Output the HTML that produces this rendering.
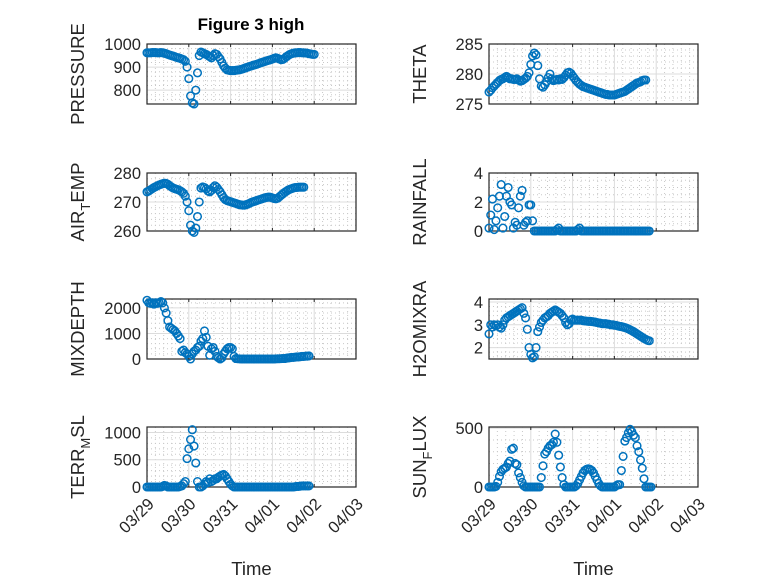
<!DOCTYPE html>
<html><head><meta charset="utf-8"><style>
body{margin:0;background:#fff;}
svg{display:block;font-family:"Liberation Sans","DejaVu Sans",sans-serif;}
</style></head><body>
<svg id="fig" width="778" height="583" xmlns="http://www.w3.org/2000/svg"></svg>
<script>
const dateTicks = ["03/29","03/30","03/31","04/01","04/02","04/03"];
const pressure = [962,962,962,963,963,963,962,962,963,962,960,958,955,952,950,948,945,942,940,938,935,932,925,900,850,775,745,740,800,875,950,965,962,958,955,950,945,940,950,958,955,945,935,920,905,895,888,886,885,885,885,886,887,888,890,892,895,898,900,903,905,908,910,912,915,918,920,923,925,928,930,932,935,938,940,938,935,932,933,938,945,950,955,958,960,962,962,963,963,962,962,961,960,958,957,955,955];
const theta = [277,277.3,277.7,278,278.3,278.6,278.9,279.1,279.2,279.4,279.6,279.4,279.2,279.2,279.1,279.1,279.2,279.0,278.8,278.9,279.1,279.3,279.6,280.2,281.6,283.0,283.5,283.2,281.4,279.2,278.0,277.8,278.2,278.7,279.4,280.0,279.2,278.9,279.0,279.1,279.0,279.2,279.1,279.4,279.8,280.2,280.3,280.1,279.7,279.3,278.9,278.6,278.3,278.1,277.9,277.8,277.7,277.6,277.5,277.4,277.3,277.2,277.1,277.0,276.9,276.8,276.7,276.6,276.6,276.5,276.5,276.5,276.5,276.6,276.7,276.8,276.9,277.0,277.1,277.3,277.5,277.7,277.9,278.1,278.3,278.5,278.6,278.7,278.9,279.0,279.0];
const airTemp = [273.5,273.8,274.2,274.6,275,275.3,275.6,275.9,276.1,276.3,276.5,276.4,276.1,275.6,275.2,274.8,274.6,274.4,274.2,273.9,273.5,273,272,270,267,262,260,259.5,261,265,270,274.8,275.2,275,274.5,273.8,273.5,274,275,275.6,275.1,274.3,273.5,272.5,271.5,270.8,270.5,270.3,270.1,269.9,269.7,269.5,269.3,269.1,269,268.9,268.9,269.1,269.3,269.6,269.9,270.1,270.3,270.5,270.7,270.9,271.1,271.3,271.5,271.6,271.7,271.6,271.4,271.2,271.1,271.3,271.8,272.3,272.8,273.3,273.7,274.1,274.4,274.6,274.8,275,275,275.1,275.1,275.1,275.1];
const rainfall = [0.2,1.1,2.2,0.1,0.7,1.6,2.4,3.2,0.2,1.0,2.4,3.0,2.0,1.8,0.2,0.6,0.4,1.6,2.4,2.8,0.4,0.6,0.7,1.8,1.8,0.7,0,0,0,0,0,0,0,0,0,0,0,0,0,0.1,0.2,0,0,0,0,0,0,0,0,0,0,0.1,0.2,0,0,0,0,0,0,0,0,0,0,0,0,0,0,0,0,0,0,0,0,0,0,0,0,0,0,0,0,0,0,0,0,0,0,0,0,0,0,0,0];
const mixDepth = [2300,2200,2180,2200,2150,2200,2180,2200,2250,2200,2000,1800,1500,1250,1200,1150,1100,1000,900,800,300,350,250,200,100,0,200,300,350,450,500,700,800,1100,850,500,150,400,450,300,100,50,0,50,200,300,400,450,450,400,100,20,10,5,0,0,0,0,0,0,0,0,0,0,0,0,0,0,0,0,0,0,0,0,5,10,10,15,20,20,30,40,50,60,60,70,80,80,90,100,100,110,110,120];
const h2oMix = [2.6,3.0,2.9,3.0,2.95,3.0,2.9,2.85,3.0,3.2,3.3,3.35,3.4,3.45,3.5,3.55,3.6,3.65,3.7,3.75,3.5,3.3,2.8,2.0,1.7,1.55,1.6,2.0,2.7,2.9,3.1,3.2,3.3,3.35,3.4,3.5,3.55,3.6,3.65,3.6,3.55,3.5,3.4,3.3,3.1,3.0,3.05,3.2,3.25,3.2,3.2,3.2,3.2,3.2,3.18,3.17,3.16,3.15,3.15,3.14,3.13,3.12,3.1,3.08,3.07,3.05,3.05,3.05,3.03,3.02,3.0,3.0,2.98,2.97,2.95,2.93,2.92,2.9,2.88,2.85,2.82,2.78,2.74,2.7,2.65,2.6,2.55,2.5,2.45,2.4,2.36,2.32,2.3];
const terrMsl = [0,0,0,0,0,0,0,0,0,10,30,20,0,0,0,0,0,0,0,10,20,60,100,520,700,870,1050,750,440,100,0,0,20,50,100,80,150,100,120,150,150,180,200,220,230,200,150,100,50,20,0,0,0,0,0,0,0,0,0,0,0,0,0,0,0,0,0,0,0,0,0,0,0,0,0,0,0,0,0,0,0,0,0,0,0,5,10,10,15,20,20,20,20,20];
const sunFlux = [0,0,0,0,5,40,90,130,150,160,170,200,220,320,330,200,190,120,80,40,10,0,0,0,0,0,0,0,0,0,80,180,280,300,330,350,360,380,450,380,270,170,80,20,0,0,0,0,0,0,10,30,60,90,120,140,150,155,150,140,120,90,60,30,10,0,0,0,0,0,0,0,0,10,20,20,140,260,390,420,460,490,470,440,420,350,300,230,160,70,0,0,0,0];

const NS = "http://www.w3.org/2000/svg";
const svg = document.getElementById("fig");
function mk(tag, attrs, parent){const e=document.createElementNS(NS,tag);for(const k in attrs)e.setAttribute(k,attrs[k]);(parent||svg).appendChild(e);return e;}

const cols = [{x0:147,x1:356},{x0:489,x1:698}];
const rows = [{y0:44,y1:104},{y0:173,y1:231},{y0:299,y1:359},{y0:427,y1:487}];
const panels = [
 {name:"pressure",data:pressure,c:0,r:0,ymin:740,ymax:1000,ticks:[800,900,1000],minor:20,label:["PRESSURE"]},
 {name:"theta",data:theta,c:1,r:0,ymin:275,ymax:285,ticks:[275,280,285],minor:1,label:["THETA"]},
 {name:"air-temp",data:airTemp,c:0,r:1,ymin:260,ymax:280,ticks:[260,270,280],minor:2,label:["AIR","T","EMP"]},
 {name:"rainfall",data:rainfall,c:1,r:1,ymin:0,ymax:4,ticks:[0,2,4],minor:0.5,label:["RAINFALL"]},
 {name:"mixdepth",data:mixDepth,c:0,r:2,ymin:0,ymax:2350,ticks:[0,1000,2000],minor:200,label:["MIXDEPTH"]},
 {name:"h2omixratio",data:h2oMix,c:1,r:2,ymin:1.5,ymax:4.13,ticks:[2,3,4],minor:0.2,label:["H2OMIXRA"]},
 {name:"terr-msl",data:terrMsl,c:0,r:3,ymin:0,ymax:1100,ticks:[0,500,1000],minor:100,label:["TERR","M","SL"]},
 {name:"sun-flux",data:sunFlux,c:1,r:3,ymin:0,ymax:510,ticks:[0,500],minor:100,label:["SUN","F","LUX"]}
];

panels.forEach(p=>{
  const {x0,x1}=cols[p.c], {y0,y1}=rows[p.r];
  const xs = d => x0 + (d/5)*(x1-x0);
  const ys = v => y1 - (v-p.ymin)/(p.ymax-p.ymin)*(y1-y0);
  const g = mk("g",{});
  
  
  mk("rect",{x:x0,y:y0,width:x1-x0,height:y1-y0,fill:"#fff"},g);
  for(let d=0.2; d<5; d+=0.2){ if(Math.abs(d-Math.round(d))<1e-6) continue;
    mk("line",{x1:xs(d),x2:xs(d),y1:y0,y2:y1,stroke:"#c8c8c8","stroke-width":1,"stroke-dasharray":"1,3"},g);}
  for(let v=Math.ceil(p.ymin/p.minor)*p.minor; v<=p.ymax+1e-9; v+=p.minor){
    if(p.ticks.some(t=>Math.abs(t-v)<1e-6)) continue;
    mk("line",{x1:x0,x2:x1,y1:ys(v),y2:ys(v),stroke:"#c8c8c8","stroke-width":1,"stroke-dasharray":"1,3"},g);}
  for(let d=1; d<5; d++) mk("line",{x1:xs(d),x2:xs(d),y1:y0,y2:y1,stroke:"#dcdcdc","stroke-width":1},g);
  p.ticks.forEach(v=>mk("line",{x1:x0,x2:x1,y1:ys(v),y2:ys(v),stroke:"#dcdcdc","stroke-width":1},g));
  for(let d=0; d<=5; d++){ mk("line",{x1:xs(d),x2:xs(d),y1:y1,y2:y1-3,stroke:"#262626"},g); mk("line",{x1:xs(d),x2:xs(d),y1:y0,y2:y0+3,stroke:"#262626"},g);}
  mk("rect",{x:x0,y:y0,width:x1-x0,height:y1-y0,fill:"none",stroke:"#262626","stroke-width":1.2},g);
  p.ticks.forEach(v=>{const t=mk("text",{x:x0-6,y:ys(v)+6,"text-anchor":"end","font-size":16.5,fill:"#262626"},g);t.textContent=String(v);
    
    });
  const lx = x0-63, ly=(y0+y1)/2;
  const yl = mk("text",{transform:`translate(${lx},${ly}) rotate(-90)`,"text-anchor":"middle","font-size":18.5,fill:"#262626"},g);
  
  
  if(p.label.length===1){ yl.textContent=p.label[0]; }
  else { const a=mk("tspan",{},yl); a.textContent=p.label[0];
    const b=mk("tspan",{dy:6,"font-size":13},yl); b.textContent=p.label[1];
    const c=mk("tspan",{dy:-6},yl); c.textContent=p.label[2]; }
  if(p.r===3){
    dateTicks.forEach((s,i)=>{const t=mk("text",{transform:`translate(${xs(i)+8},${y1+18}) rotate(-45)`,"text-anchor":"end","font-size":16.5,fill:"#262626"},g);t.textContent=s;
      
      });
    const xl=mk("text",{x:(x0+x1)/2,y:575,"text-anchor":"middle","font-size":18.5,fill:"#262626"},g); xl.textContent="Time";
    
    
  }
  p.data.forEach((v,i)=>{
    const c = mk("circle",{cx:xs(i/24),cy:ys(v),r:3.8,fill:"none",stroke:"#0072BD","stroke-width":1.5},g);
    
    
  });
});
const title = mk("text",{x:251,y:30,"text-anchor":"middle","font-size":17,"font-weight":"bold",fill:"#000"});
title.textContent="Figure 3 high";


</script>
</body></html>
